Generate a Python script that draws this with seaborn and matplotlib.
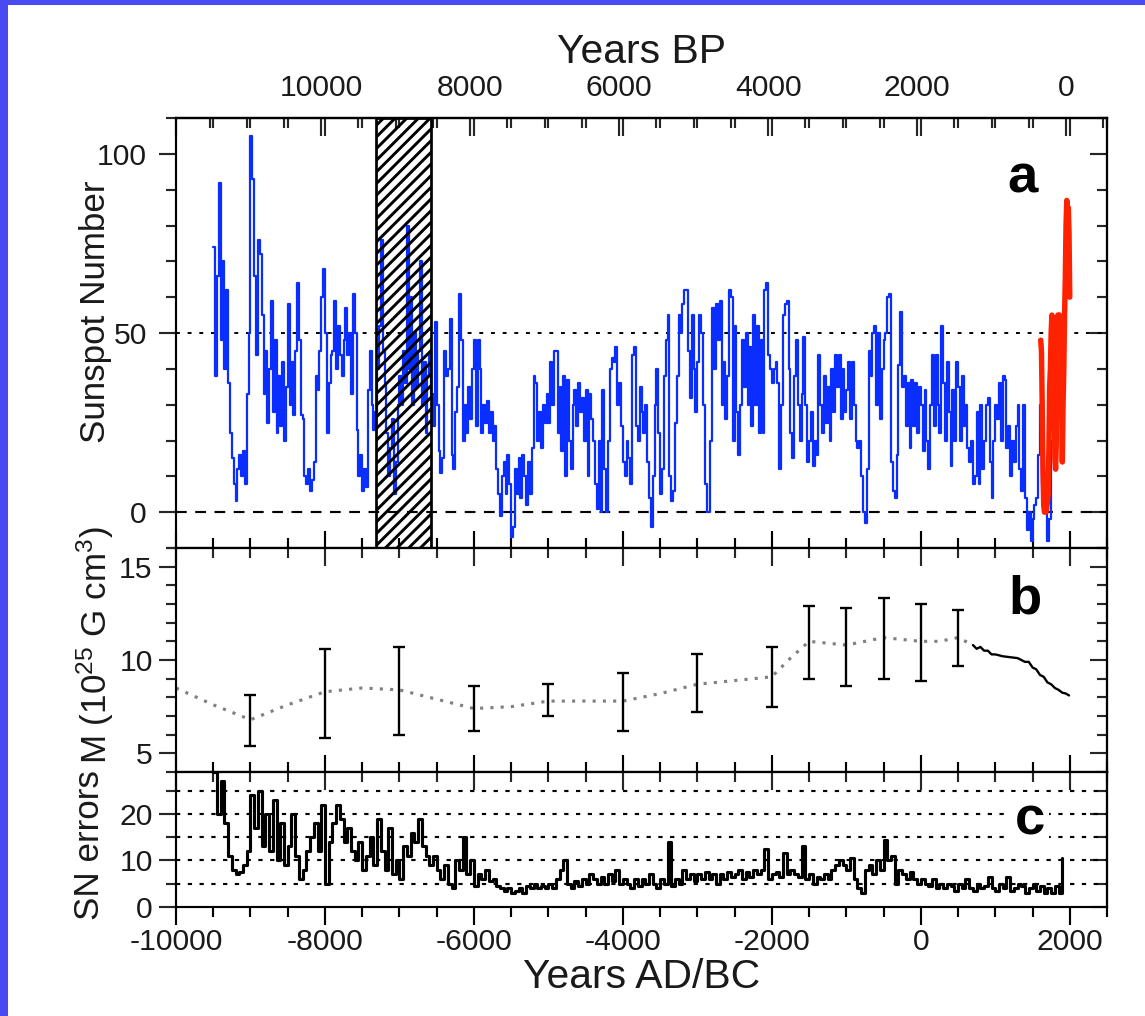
import numpy as np
import pandas as pd
import matplotlib
matplotlib.use("Agg")
import matplotlib.pyplot as plt
import seaborn as sns
from matplotlib.ticker import FixedLocator, MultipleLocator
from matplotlib.patches import Rectangle

# ---------------- data ----------------
# (a) reconstructed sunspot number, 25-yr steps from -9500 AD/BC
sn_years = np.arange(-9500, 1901, 25)
sn_values = [
    74, 38, 66, 92, 48, 70, 40, 62, 36, 22, 15, 8, 3, 12, 16, 10, 17, 8, 33, 50,
    105, 93, 66, 44, 76, 72, 55, 33, 45, 25, 40, 59, 28, 48, 22, 38, 24, 42, 20, 35,
    58, 30, 42, 27, 45, 64, 48, 27, 26, 10, 8, 12, 6, 9, 14, 38, 34, 45, 60, 68,
    50, 22, 36, 44, 45, 59, 40, 52, 44, 38, 48, 57, 44, 50, 33, 61, 50, 23, 10, 16,
    6, 12, 7, 34, 45, 30, 23, 28, 40, 52, 76, 45, 36, 22, 10, 18, 26, 5, 14, 30,
    38, 30, 45, 36, 80, 40, 60, 30, 50, 35, 45, 70, 30, 42, 22, 38, 44, 33, 24, 53,
    30, 17, 11, 15, 45, 38, 40, 54, 16, 12, 28, 35, 61, 48, 20, 30, 22, 35, 26, 40,
    48, 24, 48, 40, 22, 30, 25, 31, 22, 28, 20, 24, 12, 5, -1, 10, 14, 5, 16, 8,
    -7, -4, 12, 5, 15, 4, 16, 10, 2, 14, 5, 18, 38, 36, 20, 28, 18, 30, 25, 33,
    25, 42, 30, 45, 45, 22, 35, 17, 38, 10, 37, 20, 12, 30, 34, 24, 36, 28, 32, 20,
    34, 10, 33, 26, 20, 8, 1, 20, 0, 34, 12, 0, 20, 40, 43, 42, 46, 30, 36, 24,
    14, 10, 20, 15, 8, 44, 46, 24, 20, 35, 28, 22, 30, 14, 4, -4, 10, 30, 40, 22,
    5, 12, 38, 48, 55, 10, 3, 6, 25, 38, 55, 50, 58, 62, 62, 45, 32, 55, 40, 28,
    42, 55, 50, 30, 8, 0, 0, 20, 57, 40, 58, 48, 59, 30, 42, 26, 38, 62, 60, 20,
    52, 28, 16, 30, 48, 35, 50, 30, 46, 24, 55, 30, 52, 22, 48, 22, 62, 64, 44, 40,
    36, 40, 42, 36, 12, 30, 55, 58, 59, 40, 22, 15, 38, 48, 30, 20, 33, 49, 30, 14,
    20, 28, 13, 20, 16, 44, 30, 22, 38, 25, 35, 20, 40, 28, 44, 35, 44, 26, 40, 28,
    34, 42, 26, 42, 30, 20, 18, 20, 10, 0, -3, 12, 45, 38, 50, 52, 30, 50, 26, 40,
    48, 50, 60, 61, 14, 6, 4, 16, 41, 56, 35, 38, 24, 36, 18, 37, 24, 36, 22, 35,
    30, 17, 34, 20, 12, 30, 44, 24, 44, 30, 22, 52, 36, 20, 42, 28, 13, 34, 20, 42,
    35, 20, 38, 24, 30, 18, 14, 20, 8, 10, 28, 8, 30, 12, 20, 30, 32, 14, 4, 20,
    30, 26, 36, 20, 38, 37, 18, 24, 10, 20, 14, 24, 30, 12, 6, 30, 4, -5, 0, -8,
    -2, 2, 4, 16, 30, 8, 2, 0, -8, -2, 20, 30, 45, 36, 50, 55, 28,
]

# (a) observed (group) sunspot number, decadal
obs_years = np.arange(1610, 2001, 10)
obs_values = [48, 45, 30, 12, 2, 0, 0, 0, 1, 3, 5, 18, 35, 40, 50, 55, 54, 52, 40, 15,
              12, 20, 48, 55, 52, 55, 48, 35, 42, 14, 30, 40, 55, 65, 80, 87, 80, 85, 78, 60]

# hatched interval (years AD/BC)
hatch_interval = (-7320, -6570)

# (b) virtual axial dipole moment
vadm_bar_years = [-9000, -8000, -7000, -6000, -5000, -4000, -3000, -2000, -1500, -1000, -500, 0, 500]
vadm_bar_lo = [5.4, 5.8, 6.0, 6.2, 7.0, 6.2, 7.2, 7.5, 9.0, 8.6, 9.0, 8.9, 9.7]
vadm_bar_hi = [8.1, 10.6, 10.7, 8.6, 8.7, 9.3, 10.3, 10.7, 12.9, 12.8, 13.3, 13.0, 12.7]
vadm_curve_years = [-10000, -9500, -9000, -8500, -8000, -7500, -7000, -6500, -6000, -5500,
                    -5000, -4500, -4000, -3500, -3000, -2500, -2000, -1750, -1500, -1250,
                    -1000, -750, -500, -250, 0, 250, 500, 700]
vadm_curve = [8.5, 7.6, 6.8, 7.6, 8.3, 8.5, 8.4, 7.9, 7.4, 7.5,
              7.8, 7.8, 7.8, 8.2, 8.7, 8.9, 9.1, 10.1, 11.0, 10.9,
              10.8, 11.0, 11.2, 11.1, 11.0, 11.0, 11.2, 10.8]
vadm_recent_years = [700, 750, 800, 850, 900, 950, 1000, 1100, 1200, 1300, 1400, 1450,
                     1500, 1550, 1600, 1650, 1700, 1750, 1800, 1850, 1900, 1950, 1990]
vadm_recent = [10.8, 10.6, 10.7, 10.5, 10.5, 10.3, 10.3, 10.2, 10.15, 10.1, 9.9, 9.9,
               9.6, 9.5, 9.2, 9.1, 8.8, 8.7, 8.5, 8.4, 8.25, 8.2, 8.1]

# (c) sunspot-number errors, 50-yr steps from -9500
err_years = np.arange(-9500, 1901, 50)
err_values = [
    29, 20, 27, 18, 11, 8, 7, 7.5, 9, 12, 24, 17, 25, 13, 20, 12, 23, 10, 18, 9,
    13, 20, 11, 6, 8, 12, 15, 18, 12, 22, 5, 14, 18, 22, 19, 14, 17, 12, 10, 14,
    8, 11, 15, 9, 19, 12, 8, 17, 7, 10, 6, 13, 11, 16, 14, 19, 13, 11, 9, 11,
    8, 6, 9, 5, 4, 10, 8, 15, 7, 10, 4.5, 7, 6, 8, 5.5, 6, 4.5, 4, 3.5, 4,
    3, 3.5, 4, 3, 4.5, 4, 5, 4, 4.5, 4, 5, 4, 6, 8, 10, 5, 4, 5.5, 4.5, 6,
    5, 7, 6, 5, 6.5, 5, 7, 5.5, 8, 5, 6, 5, 4, 6, 4.5, 6, 5, 7, 5, 4,
    6, 5, 14, 4.5, 6, 5, 8, 6, 7, 5.5, 7, 6, 7.5, 6, 7, 5, 7, 6, 7.5, 6.5,
    7, 8, 6, 7.5, 6.5, 8, 7, 8, 12.5, 6, 7, 7.5, 6.5, 11.5, 7, 8, 7, 6.5, 13, 6,
    7, 5, 6.5, 6, 7, 6, 8, 9, 10, 9, 8, 10.5, 6, 4, 3, 8, 9, 7, 10, 8,
    14.5, 10, 11, 5, 8, 7, 6, 7.5, 6, 5, 6, 5, 4.5, 6, 4, 5, 4, 5, 4.5, 3.5,
    5, 4, 6, 4, 3.5, 5, 4, 4.5, 6.5, 4, 3.5, 5, 4, 6.5, 3.5, 4, 5, 4.5, 3, 4,
    5, 3.5, 4.5, 3, 4, 3, 4.5, 3, 10.5,
]

ad_major_ticks = [-10000, -8000, -6000, -4000, -2000, 0, 2000]
bp_major_ticks = [0, 2000, 4000, 6000, 8000, 10000]

# ---------------- style ----------------
sns.set_style("white")
plt.rcParams["font.family"] = ["Liberation Sans", "DejaVu Sans"]
plt.rcParams["mathtext.default"] = "regular"
plt.rcParams["axes.unicode_minus"] = False
plt.rcParams["hatch.linewidth"] = 1.5
plt.rcParams["axes.linewidth"] = 1.1
plt.rcParams["axes.edgecolor"] = "black"

W, H, DPI = 1145, 1016, 140
fig = plt.figure(figsize=(W / DPI, H / DPI), dpi=DPI)
fig.patch.set_facecolor("white")
# slide border
fig.patches.append(Rectangle((0, 0), 8 / W, 1, transform=fig.transFigure,
                             facecolor="#4A4AF2", edgecolor="none", zorder=10))
fig.patches.append(Rectangle((0, 1 - 5 / H), 1, 5 / H, transform=fig.transFigure,
                             facecolor="#4A4AF2", edgecolor="none", zorder=10))

L, R = 176, 1107
def rect(top, bottom):
    return [L / W, 1 - bottom / H, (R - L) / W, (bottom - top) / H]

axA = fig.add_axes(rect(118, 548))
axB = fig.add_axes(rect(548, 772))
axC = fig.add_axes(rect(772, 907))

TXT = "#1a1a1a"
TICK_FS = 15.5
MAJ, MIN, TW = 9.0, 5.0, 1.1

def style_x(ax, bottom_dir, bottom_labels):
    ax.set_xlim(-10000, 2500)
    ax.xaxis.set_major_locator(FixedLocator(ad_major_ticks))
    ax.xaxis.set_minor_locator(MultipleLocator(500))
    ax.tick_params(axis="x", which="both", direction=bottom_dir, top=False, bottom=True,
                   labelbottom=bottom_labels, width=TW, colors="black",
                   labelcolor=TXT, labelsize=TICK_FS, pad=2)
    ax.tick_params(axis="x", which="major", length=MAJ)
    ax.tick_params(axis="x", which="minor", length=MIN)
    sec = ax.secondary_xaxis("top")
    sec.xaxis.set_major_locator(FixedLocator(ad_major_ticks))
    sec.xaxis.set_minor_locator(MultipleLocator(500))
    sec.tick_params(which="both", direction="in", labeltop=False, width=TW)
    sec.tick_params(which="major", length=MAJ)
    sec.tick_params(which="minor", length=MIN)
    return sec

def style_y(ax, lim, major, minor_step, pad):
    ax.set_ylim(*lim)
    ax.yaxis.set_major_locator(FixedLocator(major))
    ax.yaxis.set_minor_locator(MultipleLocator(minor_step))
    ax.tick_params(axis="y", which="both", direction="out", left=True, right=False,
                   width=TW, labelcolor=TXT, labelsize=TICK_FS, pad=pad)
    ax.tick_params(axis="y", which="major", length=MAJ)
    ax.tick_params(axis="y", which="minor", length=MIN)
    sec = ax.secondary_yaxis("right")
    sec.yaxis.set_major_locator(FixedLocator(major))
    sec.yaxis.set_minor_locator(MultipleLocator(minor_step))
    sec.tick_params(which="both", direction="in", labelright=False, width=TW)
    sec.tick_params(which="major", length=MAJ)
    sec.tick_params(which="minor", length=MIN)

# ---------------- panel a ----------------
sns.lineplot(x=sn_years, y=sn_values, ax=axA, drawstyle="steps-post", color="#0A2EFF",
             linewidth=1.15, estimator=None, sort=False, zorder=2)
sns.lineplot(x=obs_years, y=obs_values, ax=axA, color="#FF2200", linewidth=2.8,
             estimator=None, sort=False, zorder=3)
axA.axhline(50, color="black", linestyle=(0, (2, 4)), linewidth=1.0, zorder=1)
axA.axhline(0, color="black", linestyle=(0, (5, 4)), linewidth=1.1, zorder=1)
axA.axvspan(*hatch_interval, facecolor="none", edgecolor="black", hatch="////",
            linewidth=1.4, zorder=4)
style_x(axA, "in", False)
axA.set_xlabel("")
style_y(axA, (-10, 110), [0, 50, 100], 10, 6)
axA.set_ylabel("Sunspot Number", fontsize=18, color=TXT)
axA.yaxis.set_label_coords(-0.069, 0.549)
axA.text(0.909, 0.86, "a", transform=axA.transAxes, fontsize=28, fontweight="bold",
         ha="center", va="center", color="black")

bp = axA.secondary_xaxis("top", functions=(lambda x: 1950 - x, lambda x: 1950 - x))
bp.xaxis.set_major_locator(FixedLocator(bp_major_ticks))
bp.xaxis.set_minor_locator(MultipleLocator(500))
bp.tick_params(which="both", direction="in", width=TW, labelsize=TICK_FS,
               labelcolor=TXT, pad=8)
bp.tick_params(which="major", length=MAJ)
bp.tick_params(which="minor", length=MIN)
bp.set_xlabel("Years BP", fontsize=21, color=TXT, labelpad=6)

# ---------------- panel b ----------------
sns.lineplot(x=vadm_curve_years, y=vadm_curve, ax=axB, color="#808080",
             linestyle=(0, (1, 2.3)), linewidth=1.6, estimator=None, sort=False)
sns.lineplot(x=vadm_recent_years, y=vadm_recent, ax=axB, color="black",
             linewidth=1.2, estimator=None, sort=False)
mid = [(lo + hi) / 2 for lo, hi in zip(vadm_bar_lo, vadm_bar_hi)]
err = [(hi - lo) / 2 for lo, hi in zip(vadm_bar_lo, vadm_bar_hi)]
axB.errorbar(vadm_bar_years, mid, yerr=err, fmt="none", ecolor="black",
             elinewidth=1.2, capsize=3.2, capthick=1.2)
style_x(axB, "in", False)
axB.set_xlabel("")
style_y(axB, (4, 16), [5, 10, 15], 1, 3)
axB.set_ylabel(r"M (10$^{25}$ G cm$^{3}$)", fontsize=18, color=TXT)
axB.yaxis.set_label_coords(-0.064, 0.567)
axB.text(0.912, 0.77, "b", transform=axB.transAxes, fontsize=28, fontweight="bold",
         ha="center", va="center", color="black")

# ---------------- panel c ----------------
for yv in [5, 10, 15, 20, 25]:
    axC.axhline(yv, color="black", linestyle=(0, (2, 3.5)), linewidth=1.1, zorder=1)
sns.lineplot(x=err_years, y=err_values, ax=axC, drawstyle="steps-post", color="black",
             linewidth=1.6, estimator=None, sort=False, zorder=2)
style_x(axC, "out", True)
style_y(axC, (0, 29), [0, 10, 20], 5, 3)
axC.set_xlabel("Years AD/BC", fontsize=21, color=TXT, labelpad=1)
axC.set_ylabel("SN errors", fontsize=18, color=TXT)
axC.yaxis.set_label_coords(-0.075, 0.46)
axC.text(0.917, 0.64, "c", transform=axC.transAxes, fontsize=28, fontweight="bold",
         ha="center", va="center", color="black", zorder=5,
         bbox=dict(facecolor="white", edgecolor="none", pad=2))

for ax in (axA, axB, axC):
    ax.set_facecolor("white")
    for s in ax.spines.values():
        s.set_linewidth(1.1)
        s.set_color("black")

fig.savefig("out.png", dpi=DPI, facecolor="white")
